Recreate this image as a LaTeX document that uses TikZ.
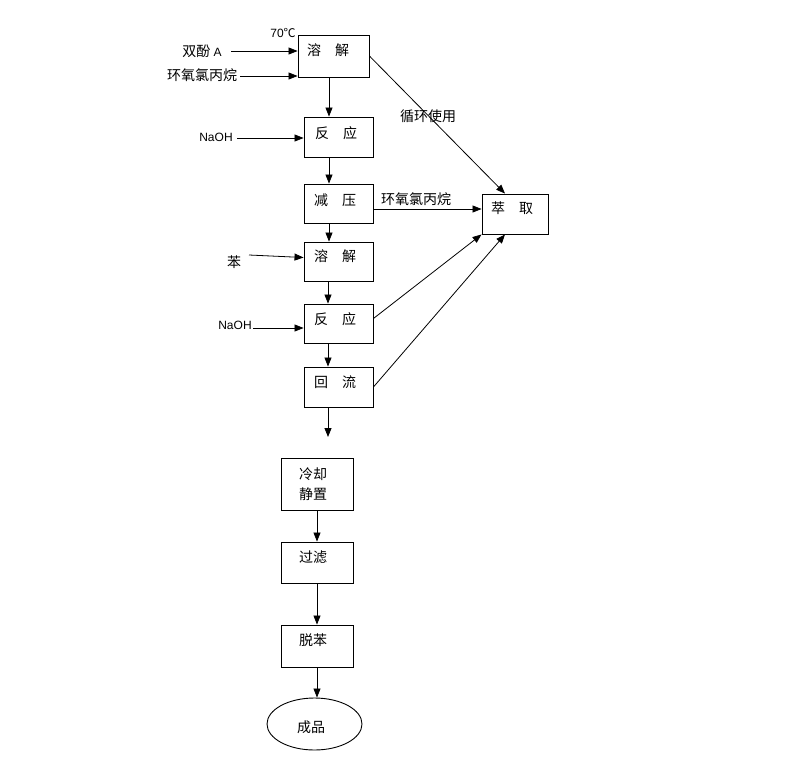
\documentclass[tikz,border=0pt]{standalone}
\usepackage{fontspec}
\setmainfont{Liberation Sans}
\newfontfamily\cjk{Noto Sans CJK SC}
\usetikzlibrary{arrows.meta,shapes.geometric}
\begin{document}
\begin{tikzpicture}[x=1pt,y=-1pt,
  box/.style={draw,line width=0.9pt,rectangle,inner sep=0pt},
  oval/.style={draw,line width=0.9pt,ellipse,inner sep=0pt},
  zh/.style={font=\cjk\fontsize{14}{16}\selectfont,inner sep=0pt},
  en/.style={font=\fontsize{12}{14}\selectfont,inner sep=0pt},
  arr/.style={line width=0.8pt,-{Triangle[length=9pt,width=7pt]}}]
\useasboundingbox[fill=white] (0,0) rectangle (812,769);

% boxes
\node[box,minimum width=71pt,minimum height=42pt] (d1) at (333.5,56) {};
\node[box,minimum width=69pt,minimum height=40pt] (r1) at (338.5,137) {};
\node[box,minimum width=69pt,minimum height=39pt] (jy) at (338.5,203.5) {};
\node[box,minimum width=69pt,minimum height=39pt] (d2) at (338.5,261.5) {};
\node[box,minimum width=69pt,minimum height=39pt] (r2) at (338.5,323.5) {};
\node[box,minimum width=69pt,minimum height=40pt] (hl) at (338.5,387) {};
\node[box,minimum width=66pt,minimum height=40pt] (cq) at (515,214) {};
\node[box,minimum width=72pt,minimum height=52pt] (lq) at (317,484) {};
\node[box,minimum width=72pt,minimum height=41pt] (gl) at (317,562.5) {};
\node[box,minimum width=72pt,minimum height=42pt] (tb) at (317,646) {};
\node[oval,minimum width=95pt,minimum height=52pt] (cp) at (314.5,724) {};

% box texts
\node[zh] (d1t) at (328,50) {溶　解};
\node[zh] (r1t) at (336,133) {反　应};
\node[zh] (jyt) at (335,200) {减　压};
\node[zh] (d2t) at (335,256) {溶　解};
\node[zh] (r2t) at (335,319) {反　应};
\node[zh] (hlt) at (335,382) {回　流};
\node[zh] (cqt) at (512,208) {萃　取};
\node[zh,align=center,font=\cjk\fontsize{14}{20}\selectfont] (lqt) at (313,484) {冷却\\静置};
\node[zh] (glt) at (313,557) {过滤};
\node[zh] (tbt) at (313,640) {脱苯};
\node[zh] (cpt) at (311,727) {成品};

% side labels
\node[en] (t70) at (283,33) {70{\cjk ℃}};
\node[en] (bpa) at (202,51) {{\cjk\fontsize{14}{16}\selectfont 双酚} A};
\node[zh] (ecb1) at (202,75) {环氧氯丙烷};
\node[en] (naoh1) at (216,137) {NaOH};
\node[zh] (xh) at (428,116) {循环使用};
\node[zh] (ecb2) at (416,199) {环氧氯丙烷};
\node[zh] (ben) at (234,262) {苯};
\node[en] (naoh2) at (235,325) {NaOH};

% tails of input arrows
\coordinate (tbpa) at (231,51);
\coordinate (tecb) at (240,76);
\coordinate (tna1) at (237,138);
\coordinate (tben) at (249,255);
\coordinate (tna2) at (253,328);
\coordinate (hlend) at (328,437);

\draw[arr] (tbpa) -- (tbpa -| d1.west);
\draw[arr] (tecb) -- (tecb -| d1.west);
\draw[arr] (tna1) -- (tna1 -| r1.west);
\draw[arr] (tben) -- ([yshift=4pt]d2.west);
\draw[arr] (tna2) -- (tna2 -| r2.west);

% main flow
\draw[arr] ([xshift=-4.5pt]d1.south) -- ([xshift=-4.5pt]d1.south |- r1.north);
\draw[arr] ([xshift=-9.5pt]r1.south) -- ([xshift=-9.5pt]r1.south |- jy.north);
\draw[arr] ([xshift=-9.5pt]jy.south) -- ([xshift=-9.5pt]jy.south |- d2.north);
\draw[arr] ([xshift=-10.5pt]d2.south) -- ([xshift=-10.5pt]d2.south |- r2.north);
\draw[arr] ([xshift=-10.5pt]r2.south) -- ([xshift=-10.5pt]r2.south |- hl.north);
\draw[arr] ([xshift=-10.5pt]hl.south) -- (hlend);
\draw[arr] (lq.south) -- (gl.north);
\draw[arr] (gl.south) -- (tb.north);
\draw[arr] (tb.south) -- (tb.south |- cp.north);

% to extraction
\draw[arr] (d1.east) -- ([xshift=-10pt]cq.north);
\draw[arr] ([yshift=-5.5pt]jy.east) -- ([yshift=-5.5pt]jy.east -| cq.west);
\draw[arr] ([yshift=5pt]r2.east) -- (cq.south west);
\draw[arr] (hl.east) -- ([xshift=-10pt]cq.south);
\end{tikzpicture}
\end{document}
